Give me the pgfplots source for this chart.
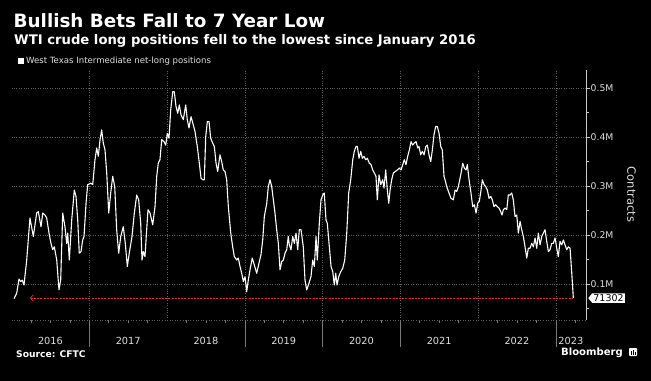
\documentclass[border=0pt]{standalone}
\usepackage{fontspec}
\setmainfont{DejaVu Sans}
\usepackage{pgfplots}
\pgfplotsset{compat=1.18}
\usetikzlibrary{arrows.meta,shapes.symbols}
\definecolor{gridgray}{RGB}{95,95,95}
\definecolor{sepgray}{RGB}{120,120,120}
\definecolor{axgray}{RGB}{200,200,200}
\definecolor{txtgray}{RGB}{222,222,222}
\definecolor{refred}{RGB}{215,50,60}
\begin{document}
\begin{tikzpicture}
\fill[black] (0,0) rectangle (651bp,-381bp);
\begin{axis}[
  scale only axis, width=574.45bp, height=250bp,
  anchor=south west, at={(11.55bp,-320bp)},
  xmin=2016, xmax=2023.388, ymin=26.4, ymax=537.4,
  clip=false,
  axis y line*=right, axis x line*=bottom,
  y axis line style={draw=axgray, line width=0.8bp, -},
  x axis line style={draw=gridgray, dotted, line width=0.6bp, -},
  tick align=outside,
  major tick length=4bp, minor tick length=3bp,
  ytick={100,200,300,400,500},
  yticklabels={0.1M,0.2M,0.3M,0.4M,0.5M},
  minor ytick={50,150,250,350,450},
  ytick style={draw=axgray, line width=0.6bp},
  yticklabel style={anchor=west, inner sep=0.5bp, text=txtgray, font=\fontsize{9.3}{10}\selectfont},
  ymajorgrids=true,
  major grid style={draw=gridgray, dotted, line width=0.6bp},
  xtick={2016.5,2017.5,2018.5,2019.5,2020.5,2021.5,2022.5,2023.194},
  xticklabels={2016,2017,2018,2019,2020,2021,2022,2023},
  xtick style={draw=none},
  minor xtick={2016.25,2016.5,2016.75,2017.25,2017.5,2017.75,2018.25,2018.5,2018.75,2019.25,2019.5,2019.75,2020.25,2020.5,2020.75,2021.25,2021.5,2021.75,2022.25,2022.5,2022.75,2023.25},
  minor x tick style={draw=sepgray, line width=0.6bp},
  xticklabel style={anchor=base, yshift=-20bp, text=txtgray, font=\fontsize{9.8}{10}\selectfont},
  extra x ticks={2017,2018,2019,2020,2021,2022,2023},
  extra x tick labels={},
  extra x tick style={grid=major},
  legend style={at={(axis description cs:0.0106,1.036)}, anchor=west, draw=none, fill=none,
    inner sep=0pt, text=txtgray, font=\fontsize{8.6}{9}\selectfont},
  legend cell align=left,
  legend image code/.code={\fill[white] (0bp,-2.6bp) rectangle (5.2bp,2.6bp);},
]
\addplot[white, line width=1.1bp, line join=round] coordinates {
(2016.032,70) (2016.066,81) (2016.096,110) (2016.118,105) (2016.138,108) (2016.160,98)
(2016.195,149) (2016.237,235) (2016.280,197) (2016.323,245) (2016.344,248) (2016.379,217)
(2016.401,245) (2016.430,241) (2016.452,235) (2016.482,204) (2016.507,183) (2016.529,170)
(2016.550,176) (2016.581,149) (2016.610,88) (2016.632,108) (2016.658,245) (2016.687,217)
(2016.709,183) (2016.722,204) (2016.743,149) (2016.774,231) (2016.807,292) (2016.829,279)
(2016.851,231) (2016.871,163) (2016.893,166) (2016.915,190) (2016.932,197) (2016.958,265)
(2016.979,303) (2017.022,306) (2017.044,303) (2017.073,354) (2017.095,378) (2017.116,361)
(2017.138,395) (2017.159,415) (2017.180,388) (2017.202,374) (2017.224,327) (2017.250,245)
(2017.275,286) (2017.301,320) (2017.327,299) (2017.352,211) (2017.378,163) (2017.404,197)
(2017.437,217) (2017.463,183) (2017.489,136) (2017.514,163) (2017.549,197) (2017.579,245)
(2017.610,282) (2017.635,272) (2017.661,224) (2017.678,149) (2017.695,166) (2017.716,156)
(2017.738,211) (2017.755,252) (2017.781,245) (2017.815,221) (2017.845,258) (2017.867,320)
(2017.887,347) (2017.909,354) (2017.931,395) (2017.961,391) (2017.983,384) (2018.003,408)
(2018.025,398) (2018.047,456) (2018.073,493) (2018.093,493) (2018.115,463) (2018.137,449)
(2018.158,466) (2018.179,446) (2018.209,436) (2018.240,466) (2018.260,436) (2018.282,419)
(2018.308,442) (2018.338,425) (2018.359,412) (2018.389,381) (2018.415,347) (2018.437,316)
(2018.459,313) (2018.479,313) (2018.497,401) (2018.518,432) (2018.540,432) (2018.561,398)
(2018.587,388) (2018.608,381) (2018.630,347) (2018.651,330) (2018.681,364) (2018.703,350)
(2018.723,333) (2018.745,330) (2018.767,313) (2018.788,258) (2018.819,204) (2018.844,176)
(2018.865,156) (2018.896,149) (2018.916,153) (2018.938,136) (2018.960,122) (2018.981,105)
(2019.003,115) (2019.024,84) (2019.045,108) (2019.067,129) (2019.096,153) (2019.122,139)
(2019.153,122) (2019.183,143) (2019.208,160) (2019.230,190) (2019.251,238) (2019.282,265)
(2019.302,299) (2019.324,313) (2019.346,299) (2019.367,272) (2019.388,245) (2019.410,211)
(2019.431,183) (2019.453,129) (2019.475,146) (2019.495,149) (2019.517,163) (2019.539,170)
(2019.559,197) (2019.572,180) (2019.594,170) (2019.616,197) (2019.637,183) (2019.659,204)
(2019.680,170) (2019.701,211) (2019.723,211) (2019.752,176) (2019.774,108) (2019.796,88)
(2019.826,102) (2019.851,115) (2019.873,149) (2019.894,136) (2019.916,197) (2019.932,149)
(2019.958,224) (2019.980,272) (2020.002,282) (2020.022,286) (2020.044,231) (2020.061,224)
(2020.087,176) (2020.109,136) (2020.131,125) (2020.151,98) (2020.169,122) (2020.186,98)
(2020.208,115) (2020.233,125) (2020.259,132) (2020.285,149) (2020.311,204) (2020.336,286)
(2020.362,313) (2020.388,354) (2020.408,371) (2020.430,381) (2020.447,381) (2020.469,357)
(2020.491,371) (2020.511,357) (2020.533,361) (2020.555,354) (2020.576,357) (2020.601,347)
(2020.623,344) (2020.645,333) (2020.666,327) (2020.687,320) (2020.704,272) (2020.726,323)
(2020.748,303) (2020.774,313) (2020.790,296) (2020.812,333) (2020.833,292) (2020.851,265)
(2020.868,292) (2020.889,313) (2020.910,327) (2020.936,330) (2020.961,333) (2020.987,337)
(2021.009,333) (2021.031,344) (2021.051,354) (2021.073,344) (2021.095,361) (2021.116,374)
(2021.138,391) (2021.159,384) (2021.180,388) (2021.202,391) (2021.224,378) (2021.240,381)
(2021.262,364) (2021.283,371) (2021.305,364) (2021.327,381) (2021.347,384) (2021.369,364)
(2021.391,350) (2021.412,374) (2021.433,405) (2021.455,422) (2021.476,422) (2021.498,408)
(2021.520,381) (2021.540,374) (2021.562,320) (2021.575,313) (2021.597,299) (2021.626,286)
(2021.652,275) (2021.682,272) (2021.704,292) (2021.725,289) (2021.746,299) (2021.777,323)
(2021.803,347) (2021.823,337) (2021.845,333) (2021.862,344) (2021.884,313) (2021.909,286)
(2021.931,258) (2021.952,262) (2021.974,245) (2021.995,265) (2022.016,269) (2022.038,292)
(2022.055,313) (2022.077,303) (2022.098,299) (2022.119,292) (2022.141,275) (2022.163,279)
(2022.183,272) (2022.205,258) (2022.227,262) (2022.248,258) (2022.270,255) (2022.291,248)
(2022.308,241) (2022.325,252) (2022.347,255) (2022.369,252) (2022.389,282) (2022.411,282)
(2022.433,286) (2022.453,272) (2022.475,238) (2022.497,241) (2022.518,204) (2022.540,228)
(2022.561,211) (2022.582,197) (2022.604,176) (2022.626,153) (2022.646,173) (2022.668,173)
(2022.690,183) (2022.711,176) (2022.733,194) (2022.754,173) (2022.775,204) (2022.797,180)
(2022.819,197) (2022.839,204) (2022.861,211) (2022.883,187) (2022.904,166) (2022.925,170)
(2022.947,183) (2022.968,183) (2022.990,194) (2023.012,173) (2023.032,156) (2023.054,187)
(2023.076,180) (2023.097,190) (2023.118,180) (2023.140,170) (2023.161,176) (2023.183,173)
(2023.205,122) (2023.225,71.302)
};
\addlegendentry{West Texas Intermediate net-long positions}
\addplot[refred, line width=0.8bp, dash pattern=on 2bp off 1.2bp,
  {Straight Barb[length=2.5bp,width=6bp]}-, forget plot] coordinates {(2016.237,71.302) (2023.225,71.302)};
\end{axis}
% value label at the right axis (y = 298.1 px)
\node[signal, signal to=west, signal pointer angle=100, fill=white, text=black, inner sep=1.2bp,
  font=\fontsize{9.5}{10}\selectfont, anchor=west] at (588bp,-298.1bp) {71302};
% year separators below the axis
\foreach \xx in {89.3,244.8,322.55,400.3,555.8}{
  \draw[sepgray, line width=0.6bp] (\xx bp,-320bp) -- (\xx bp,-347bp);
}
\node[rotate=-90, text=txtgray, font=\fontsize{11.5}{12}\selectfont] at (631.5bp,-194.5bp) {Contracts};
\node[anchor=base west, inner sep=0, text=white, font=\bfseries\fontsize{18.4}{20}\selectfont] at (13.5bp,-27.3bp) {Bullish Bets Fall to 7 Year Low};
\node[anchor=base west, inner sep=0, text=white, font=\bfseries\fontsize{13.25}{14}\selectfont] at (14bp,-44.5bp) {WTI crude long positions fell to the lowest since January 2016};
\node[anchor=base west, inner sep=0, text=white, font=\bfseries\fontsize{9.2}{10}\selectfont] at (16bp,-357.3bp) {Source: CFTC};
\node[anchor=base east, inner sep=0, text=white, font=\bfseries\fontsize{10.1}{11}\selectfont] at (623bp,-355bp) {Bloomberg};
\fill[white, rounded corners=0.8bp] (629bp,-348bp) rectangle (637bp,-356bp);
\draw[black, line width=0.8bp] (631bp,-354.5bp) -- (631bp,-351bp) (633bp,-354.5bp) -- (633bp,-349.5bp) (635bp,-354.5bp) -- (635bp,-352bp);
\end{tikzpicture}
\end{document}
